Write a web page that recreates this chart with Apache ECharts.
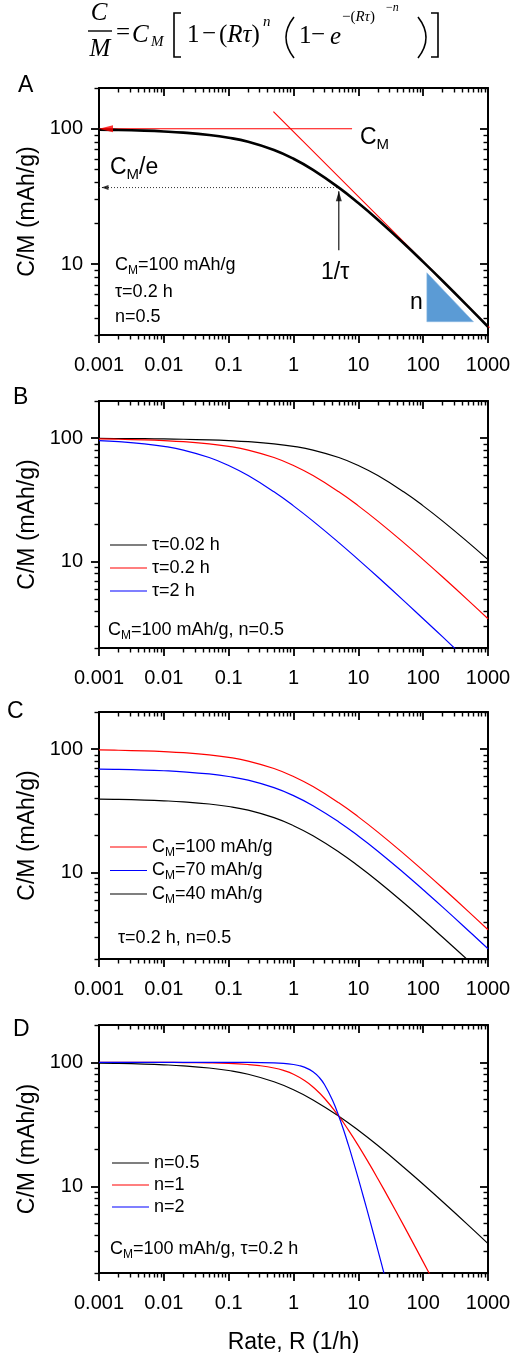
<!DOCTYPE html>
<html>
<head>
<meta charset="utf-8">
<script src="https://cdn.jsdelivr.net/npm/echarts@6/dist/echarts.min.js"></script>
<style>
  html, body { margin: 0; padding: 0; background: #fff; }
  #chart { width: 512px; height: 1353px; }
</style>
</head>
<body>
<div id="chart"></div>
<script>
// ---------- axis ticks ----------
const rateTickValues = [0.001, 0.01, 0.1, 1, 10, 100, 1000];
const rateTickLabels = ['0.001', '0.01', '0.1', '1', '10', '100', '1000'];
const capTickValues = [10, 100];
const capTickLabels = ['10', '100'];

// ---------- curves (C/M in mAh/g vs rate R in 1/h) ----------
const rate = [0.001, 0.002, 0.005, 0.01, 0.02, 0.05, 0.1, 0.2, 0.5, 1, 2, 5, 10, 20, 50, 100, 200, 500, 1000];
// CM = 100 mAh/g, n = 0.5
const capTau0p2  = [98.59, 98.00, 96.84, 95.53, 93.68, 90.00, 85.87, 80.13, 69.72, 60.06, 49.77, 36.79, 28.31, 21.31, 14.27, 10.39, 7.51, 4.84, 3.45];
const capTau0p02 = [99.55, 99.37, 99.00, 98.59, 98.00, 96.84, 95.53, 93.68, 90.00, 85.87, 80.13, 69.72, 60.06, 49.77, 36.79, 28.31, 21.31, 14.27, 10.39];
const capTau2    = [95.53, 93.68, 90.00, 85.87, 80.13, 69.72, 60.06, 49.77, 36.79, 28.31, 21.31, 14.27, 10.39, 7.51, 4.84, 3.45, 2.46, 1.56, 1.11];
// tau = 0.2 h, n = 0.5
const capCm100 = [98.59, 98.00, 96.84, 95.53, 93.68, 90.00, 85.87, 80.13, 69.72, 60.06, 49.77, 36.79, 28.31, 21.31, 14.27, 10.39, 7.51, 4.84, 3.45];
const capCm70  = [69.01, 68.60, 67.79, 66.87, 65.58, 63.00, 60.11, 56.09, 48.80, 42.04, 34.84, 25.75, 19.82, 14.92, 9.99, 7.27, 5.26, 3.39, 2.42];
const capCm40  = [39.44, 39.20, 38.74, 38.21, 37.47, 36.00, 34.35, 32.05, 27.89, 24.02, 19.91, 14.72, 11.32, 8.52, 5.71, 4.16, 3.00, 1.94, 1.38];
// CM = 100 mAh/g, tau = 0.2 h, n = 1 and n = 2
const rateN1 = [0.001, 0.002, 0.005, 0.01, 0.02, 0.05, 0.1, 0.2, 0.3, 0.5, 0.7, 1, 1.5, 2, 3, 5, 7, 10, 15, 20, 30, 50, 100, 200];
const capN1  = [99.98, 99.96, 99.90, 99.80, 99.60, 99.00, 98.00, 96.00, 94.00, 90.00, 86.01, 80.13, 71.07, 63.28, 51.33, 36.79, 28.54, 21.31, 14.96, 11.52, 7.89, 4.84, 2.46, 1.24];
const rateN2 = [0.001, 0.01, 0.1, 0.2, 0.5, 0.7, 1, 1.2, 1.5, 2, 2.5, 3, 4, 5, 6, 7, 8, 10, 12, 15, 20, 25, 30];
const capN2  = [100.00, 100.00, 99.96, 99.84, 99.00, 98.04, 96.00, 94.24, 91.00, 84.03, 75.46, 66.24, 49.42, 36.79, 27.91, 21.67, 17.22, 11.52, 8.20, 5.36, 3.06, 1.97, 1.37];

// ---------- panel A guide marks ----------
const plateauRate = [0.001, 8];
const plateauCap  = [100, 100];
const slopeRate   = [0.49, 1054];
const slopeCap    = [133.6, 3.40];
const kneeRate    = [0.001, 5];
const kneeCap     = [36.79, 36.79];
const tauRate     = [5, 5];
const tauCap      = [12.7, 34.5];
const triRate     = [114, 597];
const triCap      = [8.65, 3.76];

// ---------- helpers ----------
const SANS = 'Liberation Sans';
const SERIF = 'Liberation Serif';
const BLACK = '#000000', RED = '#ff0000', BLUE = '#0000ff';
const zip = (xs, ys) => xs.map((x, i) => [x, ys[i]]);

function minorTicks(lo, hi) {
  const out = [];
  for (let d = lo; d < hi * 0.999; d *= 10) {
    for (let k = 2; k <= 9; k++) out.push(+(d * k).toPrecision(6));
  }
  return out;
}
function labelFor(values, labels) {
  return v => {
    let best = 0, bd = Infinity;
    values.forEach((t, i) => {
      const d = Math.abs(Math.log10(v) - Math.log10(t));
      if (d < bd) { bd = d; best = i; }
    });
    return labels[best];
  };
}

const panels = [
  { top: 88,   height: 247, yMin: 3 },
  { top: 401,  height: 247, yMin: 2 },
  { top: 712,  height: 247, yMin: 2 },
  { top: 1025, height: 248, yMin: 2 }
];
const GRID_LEFT = 99, GRID_WIDTH = 389;

function axisSet(dim, g, min, max, majors, minors, labels, name) {
  const isX = dim === 'x';
  const pos = isX ? ['bottom', 'top'] : ['left', 'right'];
  const base = {
    type: 'log', logBase: 10, gridIndex: g, min: min, max: max,
    splitLine: { show: false }, minorTick: { show: false }, silent: true
  };
  const line = { show: true, onZero: false, lineStyle: { color: BLACK, width: 2 } };
  const majorTick = inside => ({ show: true, inside: inside, length: 8, customValues: majors,
    lineStyle: { color: BLACK, width: 1.8 } });
  const minorTick = inside => ({ show: true, inside: inside, length: 4.5, customValues: minors,
    lineStyle: { color: BLACK, width: 1.4 } });
  const main = Object.assign({}, base, {
    position: pos[0], axisLine: line, axisTick: majorTick(false),
    axisLabel: { show: true, customValues: majors, formatter: labelFor(majors, labels),
      fontSize: 20, fontFamily: SANS, color: BLACK, margin: isX ? 20 : 16 }
  });
  if (name) {
    Object.assign(main, {
      name: name, nameLocation: 'middle', nameGap: isX ? 58 : 57,
      nameTextStyle: { fontSize: 23, fontFamily: SANS, color: BLACK }
    });
  }
  return [
    main,
    Object.assign({}, base, { position: pos[0], axisLine: { show: false }, axisTick: minorTick(false), axisLabel: { show: false } }),
    Object.assign({}, base, { position: pos[1], axisLine: line, axisTick: majorTick(true), axisLabel: { show: false } }),
    Object.assign({}, base, { position: pos[1], axisLine: { show: false }, axisTick: minorTick(true), axisLabel: { show: false } })
  ];
}

const grids = [], xAxes = [], yAxes = [];
panels.forEach((p, g) => {
  grids.push({ left: GRID_LEFT, width: GRID_WIDTH, top: p.top, height: p.height, outerBoundsMode: 'none' });
  xAxes.push(...axisSet('x', g, 0.001, 1000, rateTickValues, minorTicks(0.001, 1000), rateTickLabels,
    g === 3 ? 'Rate, R (1/h)' : null));
  const yMinors = minorTicks(1, 1000).filter(v => v >= p.yMin && v <= 200);
  yAxes.push(...axisSet('y', g, p.yMin, 200, capTickValues, yMinors, capTickLabels, 'C/M (mAh/g)'));
});

function curve(name, g, xs, ys, color, width) {
  return {
    name: name, type: 'line', xAxisIndex: 4 * g, yAxisIndex: 4 * g,
    data: zip(xs, ys), symbol: 'none', smooth: 0.45,
    lineStyle: { color: color, width: width }, itemStyle: { color: color },
    silent: true, z: 3
  };
}
function guide(g, xs, ys, color, width, type, clip) {
  return {
    type: 'line', xAxisIndex: 4 * g, yAxisIndex: 4 * g, data: zip(xs, ys),
    symbol: 'none', clip: clip !== false, silent: true, z: 2,
    lineStyle: { color: color, width: width, type: type || 'solid' }
  };
}
function head(g, x, y, path, size, offset, color) {
  return {
    type: 'scatter', xAxisIndex: 4 * g, yAxisIndex: 4 * g, data: [[x, y]],
    symbol: path, symbolSize: size, symbolOffset: offset, clip: false, silent: true, z: 4,
    itemStyle: { color: color }
  };
}
const LEFT_ARROW = 'path://M0,5L12,0L12,10Z';
const UP_ARROW = 'path://M5,0L10,12L0,12Z';

const series = [
  // panel A
  guide(0, plateauRate, plateauCap, RED, 1.2),
  guide(0, slopeRate, slopeCap, RED, 1.1, 'solid', false),
  guide(0, kneeRate, kneeCap, '#333', 1, [1, 2]),
  guide(0, tauRate, tauCap, BLACK, 1.1),
  head(0, plateauRate[0], plateauCap[0], LEFT_ARROW, [14, 7], [7, 0], RED),
  head(0, kneeRate[0], kneeCap[0], LEFT_ARROW, [7, 5], [6, 0], BLACK),
  head(0, tauRate[1], tauCap[1], UP_ARROW, [6, 10], [0, 5], BLACK),
  {
    type: 'custom', xAxisIndex: 0, yAxisIndex: 0, silent: true, z: 1,
    data: [[triRate[0], triCap[0], triRate[1], triCap[1]]],
    renderItem: (params, api) => {
      const a = api.coord([api.value(0), api.value(1)]);
      const b = api.coord([api.value(0), api.value(3)]);
      const c = api.coord([api.value(2), api.value(3)]);
      return { type: 'polygon', shape: { points: [a, b, c] },
        style: { fill: '#5b9bd5', stroke: '#8cb8e2', lineWidth: 0.6 } };
    }
  },
  curve('A', 0, rate, capTau0p2, BLACK, 2.6),
  // panel B
  curve('τ=0.02 h', 1, rate, capTau0p02, BLACK, 1.2),
  curve('τ=0.2 h', 1, rate, capTau0p2, RED, 1.2),
  curve('τ=2 h', 1, rate, capTau2, BLUE, 1.2),
  // panel C
  curve('CM=100 mAh/g', 2, rate, capCm100, RED, 1.2),
  curve('CM=70 mAh/g', 2, rate, capCm70, BLUE, 1.2),
  curve('CM=40 mAh/g', 2, rate, capCm40, BLACK, 1.2),
  // panel D
  curve('n=0.5', 3, rate, capTau0p2, BLACK, 1.2),
  curve('n=1', 3, rateN1, capN1, RED, 1.2),
  curve('n=2', 3, rateN2, capN2, BLUE, 1.2)
];

// subscript style: smaller text pushed down by top padding
const subRich = size => ({
  s: { fontSize: size, fontFamily: SANS, fill: BLACK, color: BLACK, padding: [Math.round(size * 0.9), 0, 0, 0] }
});
function legendAt(names, colors, left, top, gap) {
  return {
    data: names.map((n, i) => ({
      name: n, icon: 'path://M0,0H37V1H0Z',
      itemStyle: { color: colors[i], borderWidth: 0 },
      lineStyle: { color: colors[i] }
    })),
    orient: 'vertical', left: left, top: top, padding: 0,
    itemWidth: 37, itemHeight: 1.6, itemGap: gap, selectedMode: false,
    formatter: n => n.replace('CM', 'C{s|M}'),
    textStyle: { fontSize: 18, fontFamily: SANS, color: BLACK, lineHeight: 20, rich: subRich(12) }
  };
}
const legends = [
  legendAt(['τ=0.02 h', 'τ=0.2 h', 'τ=2 h'], [BLACK, RED, BLUE], 110, 535, 3),
  legendAt(['CM=100 mAh/g', 'CM=70 mAh/g', 'CM=40 mAh/g'], [RED, BLUE, BLACK], 110, 837, 2),
  legendAt(['n=0.5', 'n=1', 'n=2'], [BLACK, RED, BLUE], 112, 1153, 2)
];

// ---------- text ----------
function txt(x, y, text, size, extra) {
  return {
    type: 'text', x: x, y: y, silent: true, z: 10,
    style: Object.assign({
      text: text, fontSize: size, fontFamily: SANS, fill: BLACK,
      textAlign: 'left', textVerticalAlign: 'middle', align: 'left', verticalAlign: 'middle',
      rich: subRich(Math.round(size * 0.65))
    }, extra || {})
  };
}
function serif(x, y, text, size, italic, align) {
  return txt(x, y, text, size, {
    fontFamily: SERIF, fontStyle: italic ? 'italic' : 'normal',
    textAlign: align || 'left', align: align || 'left',
    rich: {
      i: { fontFamily: SERIF, fontStyle: 'italic', fontSize: size, fill: BLACK },
      n: { fontFamily: SERIF, fontStyle: 'normal', fontSize: size, fill: BLACK }
    }
  });
}
const stroke = { stroke: BLACK, lineWidth: 1.6, fill: null };

const formula = [
  serif(99, 13.5, 'C', 25, true, 'center'),
  { type: 'line', shape: { x1: 88, y1: 31, x2: 112, y2: 31 }, style: { stroke: BLACK, lineWidth: 1.4 }, silent: true },
  serif(100, 49, 'M', 25, true, 'center'),
  serif(116, 33, '=', 25, false),
  serif(132, 35, 'C', 25, true),
  serif(151, 42, 'M', 15, true),
  { type: 'polyline', shape: { points: [[181, 13], [174, 13], [174, 57], [181, 57]] }, style: stroke, silent: true },
  serif(187, 35, '1', 25, false),
  serif(202, 34, '−', 25, false),
  serif(219, 35, '{n|(}{i|Rτ}{n|)}', 25, false),
  serif(263, 22, 'n', 15, true),
  { type: 'bezierCurve', shape: { x1: 294, y1: 17, x2: 294, y2: 58, cpx1: 278, cpy1: 37.5 }, style: stroke, silent: true },
  serif(299, 36, '1', 25, false),
  serif(311, 35, '−', 25, false),
  serif(330, 37, 'e', 25, true),
  serif(342, 17, '{n|−(}{i|Rτ}{n|)}', 15, false),
  serif(386, 8, '{n|−}{i|n}', 12, false),
  { type: 'bezierCurve', shape: { x1: 418, y1: 17, x2: 418, y2: 58, cpx1: 434, cpy1: 37.5 }, style: stroke, silent: true },
  { type: 'polyline', shape: { points: [[431, 13], [438, 13], [438, 57], [431, 57]] }, style: stroke, silent: true }
];

const labels = [
  txt(18, 86, 'A', 23), txt(13, 398, 'B', 23), txt(7, 712, 'C', 23), txt(13, 1030, 'D', 23),
  // panel A
  txt(115, 265, 'C{s|M}=100 mAh/g', 18),
  txt(115, 292, 'τ=0.2 h', 18),
  txt(115, 317, 'n=0.5', 18),
  txt(110, 168, 'C{s|M}/e', 23),
  txt(360, 138, 'C{s|M}', 23),
  txt(321, 273, '1/τ', 23),
  txt(410, 303, 'n', 23),
  // panels B-D
  txt(108, 630, 'C{s|M}=100 mAh/g, n=0.5', 18),
  txt(118, 938, 'τ=0.2 h, n=0.5', 18),
  txt(110, 1249, 'C{s|M}=100 mAh/g, τ=0.2 h', 18)
];

const chart = echarts.init(document.getElementById('chart'), null, { renderer: 'canvas' });
chart.setOption({
  animation: false,
  backgroundColor: '#fff',
  textStyle: { fontFamily: SANS },
  grid: grids,
  xAxis: xAxes,
  yAxis: yAxes,
  legend: legends,
  series: series,
  graphic: { elements: formula.concat(labels) }
});
</script>
</body>
</html>
